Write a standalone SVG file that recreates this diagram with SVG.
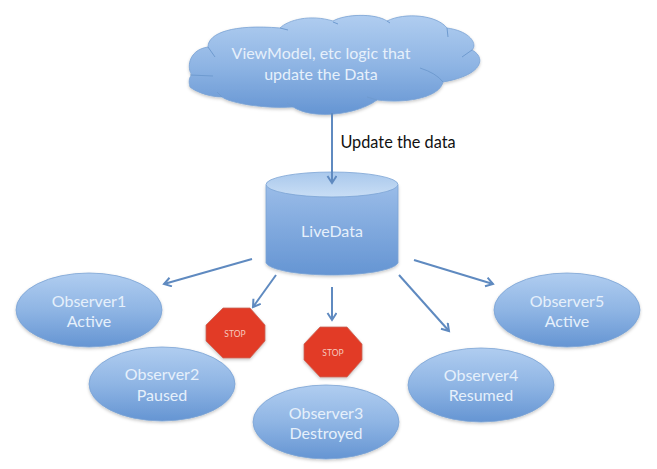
<svg xmlns="http://www.w3.org/2000/svg" width="657" height="469" viewBox="0 0 657 469">
<style>
text{font-family:Lato,"Open Sans",sans-serif;text-anchor:middle}
.w{fill:#e6f0fb;font-size:16px}
.s{fill:#f6c9bd;font-size:8.5px}
.e{fill:url(#g);stroke:#7ba3d4;stroke-width:.8;filter:url(#sh)}
.st{fill:#e23a26;stroke:#c9695c;stroke-width:.8;filter:url(#sh)}
.c{fill:none;stroke:#5f8ac0;stroke-width:2}
.crease{fill:none;stroke:#6f9bd0;stroke-width:1}
</style>
<defs>
<linearGradient id="g" x1="0" y1="0" x2="0" y2="1"><stop offset="0" stop-color="#b0cdf0"/><stop offset=".5" stop-color="#8fb5e4"/><stop offset="1" stop-color="#6595d3"/></linearGradient>
<linearGradient id="cy" x1="0" y1="0" x2="0" y2="1"><stop offset="0" stop-color="#9abce8"/><stop offset="1" stop-color="#6595d3"/></linearGradient>
<linearGradient id="top" x1="0" y1="0" x2="0" y2="1"><stop offset="0" stop-color="#a9c8ec"/><stop offset="1" stop-color="#c9def5"/></linearGradient>
<filter id="sh" x="-10%" y="-10%" width="120%" height="125%"><feDropShadow dx="0" dy="1.5" stdDeviation="1.5" flood-color="#000" flood-opacity=".22"/></filter>
<marker id="a" markerWidth="14" markerHeight="12" refX="8" refY="5" orient="auto" markerUnits="userSpaceOnUse"><path d="M1 0.5L8 5L1 9.500" fill="none" stroke="#5f8ac0" stroke-width="2"/></marker>
</defs>
<g id="cloud">
<path class="e" d="M208 47C208 33 233 24 280 28C288 20 310 14 333 21C345 14 375 13 387 21C405 12 437 15 447 28C470 31 478 44 472 50C486 57 484 75 443 82C440 97 407 104 377 100C357 115 313 120 293 107C263 109 230 103 222 97C207 97 193 90 190 87C188 80 190 76 192 75C187 70 187 50 208 47Z"/>
<path class="crease" d="M208 47L215 57M280 28L288 30M333 22L338 24M387 21L390 23M447 28L448 37M472 50L462 57M420 68Q436 73 443 82M377 100L367 97M293 107L287 103M222 97L217 92M190 75L213 76"/>
<text class="w" x="321" y="59">ViewModel, etc logic that</text>
<text class="w" x="321" y="80">update the Data</text>
</g>
<text x="398" y="148" font-size="16.300" fill="#111">Update the data</text>
<g id="livedata">
<path d="M266 185V263C270 270 298 275 332 275C366 275 394 270 398 263V185Z" fill="url(#cy)" stroke="#7ba3d4" stroke-width=".8" filter="url(#sh)"/>
<ellipse cx="332" cy="184.500" rx="66" ry="12.500" fill="url(#top)" stroke="#7ba3d4" stroke-width=".8"/>
<text class="w" x="332" y="237">LiveData</text>
</g>
<g id="observer1"><ellipse class="e" cx="89" cy="310" rx="73" ry="37"/><text class="w" x="89" y="307">Observer1</text><text class="w" x="89" y="327">Active</text></g>
<g id="observer2"><ellipse class="e" cx="162" cy="384" rx="73" ry="37"/><text class="w" x="162" y="380">Observer2</text><text class="w" x="162" y="401">Paused</text></g>
<g id="observer3"><ellipse class="e" cx="326" cy="422" rx="73" ry="37"/><text class="w" x="326" y="419">Observer3</text><text class="w" x="326" y="439">Destroyed</text></g>
<g id="observer4"><ellipse class="e" cx="481" cy="385" rx="73" ry="37"/><text class="w" x="481" y="381">Observer4</text><text class="w" x="481" y="401">Resumed</text></g>
<g id="observer5"><ellipse class="e" cx="567" cy="310" rx="73" ry="37"/><text class="w" x="567" y="307">Observer5</text><text class="w" x="567" y="327">Active</text></g>
<g id="stop1"><polygon class="st" points="223,308 250,308 265,325 265,341 250,358 223,358 206,341 206,325"/><text class="s" x="235" y="337">STOP</text></g>
<g id="stop2"><polygon class="st" points="320,327 347,327 362,344 362,360 347,377 320,377 304,360 304,344"/><text class="s" x="333" y="356">STOP</text></g>
<g id="connectors">
<line class="c" x1="332" y1="113" x2="332" y2="183" marker-end="url(#a)"/>
<line class="c" x1="252" y1="259" x2="164" y2="284" marker-end="url(#a)"/>
<line class="c" x1="276" y1="275" x2="253" y2="307" marker-end="url(#a)"/>
<line class="c" x1="332" y1="287" x2="332" y2="320" marker-end="url(#a)"/>
<line class="c" x1="399" y1="275" x2="449" y2="331" marker-end="url(#a)"/>
<line class="c" x1="414" y1="260" x2="493" y2="284" marker-end="url(#a)"/>
</g>
</svg>
